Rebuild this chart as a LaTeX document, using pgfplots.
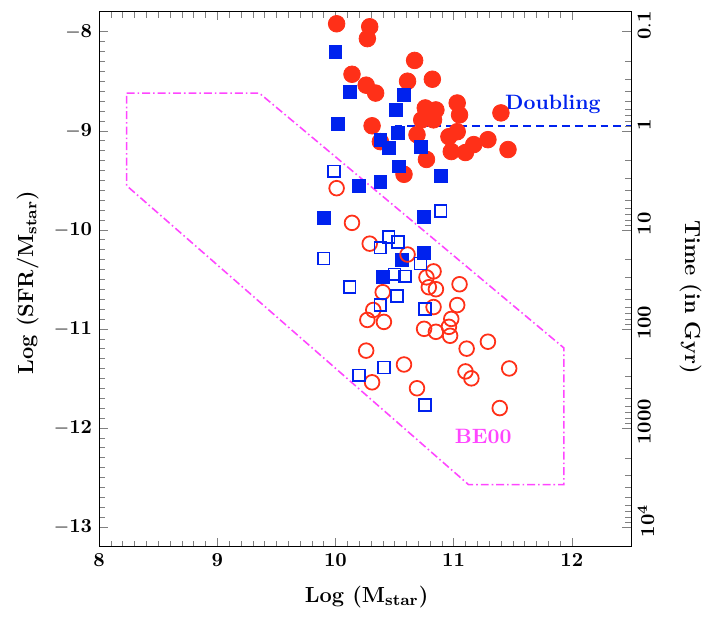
\documentclass[border=0pt]{standalone}
\usepackage{pgfplots}
\pgfplotsset{compat=1.18}
\definecolor{pred}{RGB}{255,48,24}
\definecolor{pblue}{RGB}{0,34,238}
\definecolor{pmag}{RGB}{255,70,255}
\begin{document}
\begin{tikzpicture}
\begin{axis}[
  scale only axis, width=268.5pt, height=270pt,
  xmin=8, xmax=12.5, ymin=-13.2, ymax=-7.8,
  xtick={8,9,10,11,12}, ytick={-13,-12,-11,-10,-9,-8},
  xticklabels={$\mathbf{8}$,$\mathbf{9}$,$\mathbf{10}$,$\mathbf{11}$,$\mathbf{12}$},
  yticklabels={$-\mathbf{13}$,$-\mathbf{12}$,$-\mathbf{11}$,$-\mathbf{10}$,$-\mathbf{9}$,$-\mathbf{8}$},
  minor x tick num=9, minor y tick num=9,
  xtick pos=both, ytick pos=left,
  xlabel={Log (M$_{\mathbf{star}}$)},
  xlabel style={at={(axis description cs:0.503,-0.094)}, anchor=center, font=\fontsize{11}{13}\selectfont\bfseries},
  ylabel={Log (SFR/M$_{\mathbf{star}}$)},
  ylabel style={at={(axis description cs:-0.134,0.494)}, anchor=center, font=\fontsize{11}{13}\selectfont\bfseries},
]
\addplot[pmag, line width=0.8pt, dash pattern=on 4pt off 1.5pt on 0.8pt off 1.5pt]
  coordinates {(8.234,-8.62) (9.356,-8.62) (11.933,-11.193) (11.933,-12.573) (11.126,-12.573) (8.234,-9.555) (8.234,-8.62)};
\addplot[pblue, line width=1pt, dash pattern=on 4pt off 2.5pt]
  coordinates {(10.5,-8.95) (12.5,-8.95)};
\addplot[only marks, mark=*, mark size=4.2pt, color=pred] coordinates {
(10.01,-7.92) (10.29,-7.95) (10.27,-8.07) (10.67,-8.29) (10.14,-8.43)
(10.26,-8.54) (10.34,-8.62) (10.61,-8.50) (10.82,-8.48) (10.76,-8.77)
(10.85,-8.79) (10.73,-8.89) (10.83,-8.89) (11.03,-8.72) (11.05,-8.84)
(10.96,-9.06) (10.98,-9.21) (11.10,-9.22) (11.17,-9.14) (11.03,-9.01)
(11.29,-9.09) (11.46,-9.19) (11.40,-8.82) (10.31,-8.95) (10.69,-9.04)
(10.77,-9.29) (10.58,-9.44) (10.38,-9.11)
};
\addplot[only marks, mark=square*, mark size=3.25pt, color=pblue] coordinates {
(10.00,-8.20) (10.12,-8.61) (10.02,-8.93) (10.58,-8.64) (10.51,-8.79)
(10.53,-9.02) (10.38,-9.09) (10.45,-9.17) (10.72,-9.16) (10.54,-9.36)
(10.38,-9.52) (10.20,-9.56) (10.89,-9.46) (9.90,-9.88) (10.75,-9.87)
(10.75,-10.23) (10.56,-10.30) (10.40,-10.48)
};
\addplot[only marks, mark=o, mark size=3.7pt, color=pred, mark options={line width=0.9pt}] coordinates {
(10.01,-9.58) (10.14,-9.93) (10.29,-10.14) (10.61,-10.25) (10.83,-10.42)
(10.77,-10.48) (11.05,-10.55) (10.85,-10.60) (10.79,-10.58) (10.40,-10.63)
(11.03,-10.76) (10.83,-10.78) (10.32,-10.81) (10.27,-10.91) (10.41,-10.93)
(10.98,-10.90) (10.75,-11.00) (10.85,-11.03) (10.96,-10.98) (10.97,-11.07)
(11.11,-11.20) (11.29,-11.13) (10.26,-11.22) (10.58,-11.36) (11.10,-11.43)
(11.15,-11.50) (11.47,-11.40) (10.69,-11.60) (10.31,-11.54) (11.39,-11.80)
};
\addplot[only marks, mark=square, mark size=3pt, color=pblue, mark options={line width=0.9pt}] coordinates {
(9.99,-9.41) (10.89,-9.81) (9.90,-10.29) (10.45,-10.07) (10.53,-10.12)
(10.38,-10.18) (10.72,-10.34) (10.50,-10.45) (10.59,-10.47) (10.12,-10.58)
(10.52,-10.67) (10.38,-10.76) (10.76,-10.80) (10.41,-11.39) (10.20,-11.47)
(10.76,-11.77)
};
\node[pblue, font=\fontsize{10.5}{12}\selectfont\bfseries] at (axis cs:11.84,-8.73) {Doubling};
\node[pmag, font=\fontsize{10.5}{12}\selectfont\bfseries] at (axis cs:11.25,-12.09) {BE00};
\end{axis}
\begin{axis}[
  scale only axis, width=268.5pt, height=270pt,
  hide x axis, axis y line*=right,
  xmin=8, xmax=12.5,
  ymode=log, y dir=reverse, ymin=0.0630957, ymax=15848.93,
  ytick={0.1,1,10,100,1000,10000},
  yticklabels={$\mathbf{0.1}$,$\mathbf{1}$,$\mathbf{10}$,$\mathbf{100}$,$\mathbf{1000}$,$\mathbf{10^4}$},
  yticklabel style={rotate=90, anchor=north, xshift=3pt},
  ylabel={Time (in Gyr)},
  ylabel style={at={(axis description cs:1.112,0.467)}, anchor=center, rotate=180, font=\fontsize{11}{13}\selectfont\bfseries},
]
\end{axis}
\path (-50pt,-36.5pt) rectangle (304pt,276pt);
\end{tikzpicture}
\end{document}
